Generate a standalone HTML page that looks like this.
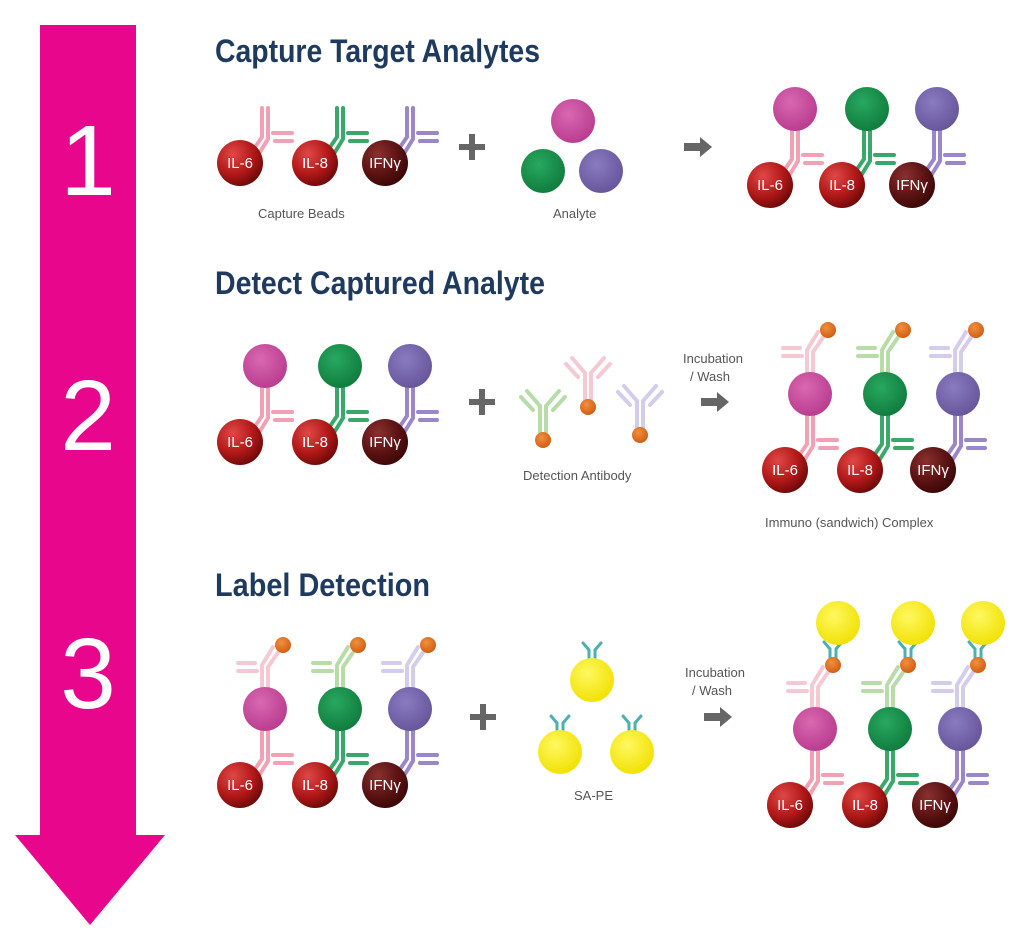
<!DOCTYPE html>
<html><head><meta charset="utf-8"><style>
html,body{margin:0;padding:0;background:#fff;}
svg{display:block;}
.t{font-family:"Liberation Sans Narrow","Liberation Sans",sans-serif;font-weight:bold;fill:#1f3a5f;font-size:32px;}
.c{font-family:"Liberation Sans",sans-serif;fill:#555;font-size:13px;}
.n{font-family:"Liberation Sans",sans-serif;fill:#fff;font-size:100px;text-anchor:middle;}
.b{font-family:"Liberation Sans",sans-serif;fill:#fff;font-size:15px;text-anchor:middle;}
</style></head><body>
<svg id="s" width="1024" height="952" viewBox="0 0 1024 952" xmlns="http://www.w3.org/2000/svg">
<defs>
<radialGradient id="gr" cx="0.35" cy="0.3" r="0.75"><stop offset="0" stop-color="#e04848"/><stop offset="0.6" stop-color="#b01818"/><stop offset="1" stop-color="#6a0808"/></radialGradient>
<radialGradient id="gd" cx="0.35" cy="0.3" r="0.75"><stop offset="0" stop-color="#8a3030"/><stop offset="0.6" stop-color="#5a1212"/><stop offset="1" stop-color="#3a0606"/></radialGradient>
<radialGradient id="gm" cx="0.4" cy="0.35" r="0.7"><stop offset="0" stop-color="#d868b0"/><stop offset="1" stop-color="#b83a8e"/></radialGradient>
<radialGradient id="gg" cx="0.4" cy="0.35" r="0.7"><stop offset="0" stop-color="#28a860"/><stop offset="1" stop-color="#0f7a3c"/></radialGradient>
<radialGradient id="gp" cx="0.4" cy="0.35" r="0.7"><stop offset="0" stop-color="#8a7ac0"/><stop offset="1" stop-color="#655498"/></radialGradient>
<radialGradient id="gy" cx="0.4" cy="0.35" r="0.7"><stop offset="0" stop-color="#fff860"/><stop offset="1" stop-color="#f0e000"/></radialGradient>
<radialGradient id="go" cx="0.4" cy="0.35" r="0.7"><stop offset="0" stop-color="#f09040"/><stop offset="1" stop-color="#d05a10"/></radialGradient>
</defs>
<rect x="40" y="25" width="96" height="812" fill="#e8078c"/>
<polygon points="15,835 165,835 90,925" fill="#e8078c"/>
<text class="n" x="88" y="195">1</text>
<text class="n" x="88" y="450">2</text>
<text class="n" x="88" y="708">3</text>
<text class="t" x="215" y="62" textLength="325" lengthAdjust="spacingAndGlyphs">Capture Target Analytes</text>
<text class="t" x="215" y="294" textLength="330" lengthAdjust="spacingAndGlyphs">Detect Captured Analyte</text>
<text class="t" x="215" y="596" textLength="215" lengthAdjust="spacingAndGlyphs">Label Detection</text>
<text class="c" x="258" y="218">Capture Beads</text>
<text class="c" x="553" y="218">Analyte</text>
<text class="c" x="523" y="480">Detection Antibody</text>
<text class="c" x="683" y="363">Incubation</text>
<text class="c" x="690" y="381">/ Wash</text>
<text class="c" x="765" y="527">Immuno (sandwich) Complex</text>
<text class="c" x="685" y="677">Incubation</text>
<text class="c" x="692" y="695">/ Wash</text>
<text class="c" x="574" y="800">SA-PE</text>
<g id="g"></g>
</svg>
<script>
var g=document.getElementById('g'),h='';
var PK='#f2a0b4',GN='#3aa86a',PU='#9a86c8',PKL='#f6c8d4',GNL='#b8dca8',PUL='#d4cceb';
function ln(a,b,c,d,col,w){h+='<line x1="'+a+'" y1="'+b+'" x2="'+c+'" y2="'+d+'" stroke="'+col+'" stroke-width="'+(w||4)+'" stroke-linecap="round"/>';}
function circ(x,y,r,f){h+='<circle cx="'+x+'" cy="'+y+'" r="'+r+'" fill="'+f+'"/>';}
function bead(x,y,l){circ(x,y,23,l=='IFNγ'?'url(#gd)':'url(#gr)');h+='<text class="b" x="'+x+'" y="'+(y+5)+'">'+l+'</text>';}
function ab(jx,jy,col,rot){h+='<g transform="translate('+jx+','+jy+') rotate('+rot+')">';
ln(-3,0,-3,-27,col);ln(3,2,3,-27,col);ln(8,-2,27,-2,col);ln(10,6,27,6,col);
ln(-3,2,-14,18,col);ln(3,4,-8,22,col);h+='</g>';}
function yab(x,y,col){
ln(x-3,y+18,x-3,y+45,col);ln(x+3,y+18,x+3,y+45,col);
ln(x-3,y+18,x-16,y+3,col);ln(x+3,y+18,x+16,y+3,col);
ln(x-10,y+22,x-22,y+9,col);ln(x+10,y+22,x+22,y+9,col);
circ(x,y+52,8,'url(#go)');}
function ty(x,y){var c='#4cb0b0';ln(x-3,y,x-3,y+9,c,3);ln(x+3,y,x+3,y+9,c,3);ln(x-3,y,x-9,y-7,c,3);ln(x+3,y,x+9,y-7,c,3);}
var L=['IL-6','IL-8','IFNγ'],C=[PK,GN,PU],CL=[PKL,GNL,PUL],S=['url(#gm)','url(#gg)','url(#gp)'];
function unit(bx,by,i,stage){
var jx=bx+25,jy=by-28;ab(jx,jy,C[i],0);
if(stage>=1){var sx=jx,sy=jy-48;
 if(stage>=2){var dx=sx,dy=sy-40;ab(dx,dy,CL[i],180);var ox=dx+18,oy=dy-24;
  if(stage>=3){ty(ox,oy-16);circ(ox+5,oy-42,22,'url(#gy)');}
  circ(ox,oy,8,'url(#go)');}
 circ(sx,sy,22,S[i]);}
bead(bx,by,L[i]);}
var r1=[240,315,385];
for(var i=0;i<3;i++)unit(r1[i],163,i,0);
circ(573,121,22,'url(#gm)');circ(543,171,22,'url(#gg)');circ(601,171,22,'url(#gp)');
var rr=[770,842,912];for(i=0;i<3;i++)unit(rr[i],185,i,1);
for(i=0;i<3;i++)unit(r1[i],442,i,1);
yab(543,388,GNL);yab(588,355,PKL);yab(640,383,PUL);
var r2=[785,860,933];for(i=0;i<3;i++)unit(r2[i],470,i,2);
for(i=0;i<3;i++)unit(r1[i],785,i,2);
ty(592,650);circ(592,680,22,'url(#gy)');ty(560,723);circ(560,752,22,'url(#gy)');ty(632,723);circ(632,752,22,'url(#gy)');
var r3=[790,865,935];for(i=0;i<3;i++)unit(r3[i],805,i,3);
function plus(x,y){h+='<rect x="'+(x-13)+'" y="'+(y-3)+'" width="26" height="6" fill="#666"/><rect x="'+(x-3)+'" y="'+(y-13)+'" width="6" height="26" fill="#666"/>';}
function arr(x,y){h+='<polygon points="'+(x-14)+','+(y-4)+' '+(x+2)+','+(y-4)+' '+(x+2)+','+(y-10)+' '+(x+14)+','+y+' '+(x+2)+','+(y+10)+' '+(x+2)+','+(y+4)+' '+(x-14)+','+(y+4)+'" fill="#666"/>';}
plus(472,147);plus(482,402);plus(483,717);arr(698,147);arr(715,402);arr(718,717);
g.innerHTML=h;
</script>
</body></html>
